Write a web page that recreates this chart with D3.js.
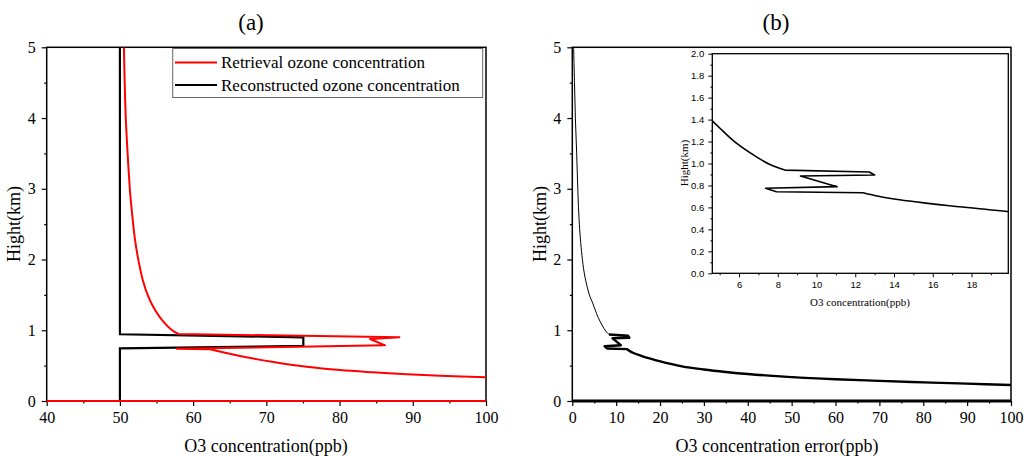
<!DOCTYPE html>
<html><head><meta charset="utf-8">
<script src="https://cdn.jsdelivr.net/npm/d3@7"></script>
<style>body{margin:0;background:#fff}svg{display:block}</style>
</head><body>
<script>
// ---- data ----
const retrievalHeight = [5.0, 4.5, 4.0, 3.5, 3.0, 2.843, 2.56, 2.28, 2.0, 1.715, 1.475, 1.287, 1.122, 1.004, 0.948, 0.90, 0.877, 0.787, 0.74, 0.731, 0.636, 0.552, 0.485, 0.438, 0.406, 0.378, 0.358, 0.333];
const retrievalValue  = [50.55, 50.65, 50.8, 51.05, 51.35, 51.48, 51.75, 52.06, 52.51, 53.11, 53.88, 54.8, 55.93, 57.08, 57.98, 88.17, 84.17, 86.2, 57.76, 62.3, 66.4, 70.96, 75.5, 80.07, 84.6, 89.2, 93.7, 100.5];
const retrievalCorners = [14, 19];   // linear zig-zag between these indices
const groundHeight = [0, 0];
const groundValueA = [40, 100];
const groundValueB = [0, 100];
const reconHeight = [5, 0.943, 0.90, 0.778, 0.745, 0];
const reconValue  = [50, 50, 75.05, 75.05, 50, 50];
const errHeight = [5, 4.5, 4, 3.5, 3, 2.5, 2, 1.75, 1.5, 1.387, 1.29, 1.18, 1.06, 0.99, 0.94, 0.922, 0.895, 0.886, 0.789, 0.774, 0.743, 0.734, 0.702, 0.675, 0.651, 0.628, 0.609, 0.592, 0.563, 0.49, 0.445, 0.41, 0.381, 0.338, 0.308, 0.285, 0.264, 0.245, 0.226];
const errValue  = [0.3, 0.5, 0.7, 1.0, 1.25, 1.6, 2.3, 2.9, 3.9, 4.63, 5.2, 5.9, 6.9, 7.6, 8.37, 12.72, 13.0, 9.17, 11.06, 7.37, 7.93, 12.4, 13.2, 14.1, 15.1, 16.2, 17.2, 18.2, 19.85, 25, 30, 35, 40, 50, 60, 70, 80, 90, 100];
const errCorners = [14, 21];
const xTicksA = [40, 50, 60, 70, 80, 90, 100];
const xTicksB = [0, 10, 20, 30, 40, 50, 60, 70, 80, 90, 100];
const yTicksMain = [0, 1, 2, 3, 4, 5];
const xTicksInset = [6, 8, 10, 12, 14, 16, 18];
const yTicksInset = [0, 0.2, 0.4, 0.6, 0.8, 1.0, 1.2, 1.4, 1.6, 1.8, 2.0];
const legendLabels = ["Retrieval ozone concentration", "Reconstructed ozone concentration"];
const legendColors = ["#ff0000", "#000000"];

const W = 1029, H = 457;
const serif = "'Liberation Serif','Times New Roman',serif";
const sans = "'Liberation Sans',Arial,sans-serif";
const svg = d3.select("body").append("svg").attr("width", W).attr("height", H);
const zip = (xs, ys) => xs.map((x, i) => [x, ys[i]]);

function panel(o) {
  const x = d3.scaleLinear().domain(o.xd).range([o.l, o.r]);
  const y = d3.scaleLinear().domain(o.yd).range([o.b, o.t]);
  const g = svg.append("g");
  const id = "clip" + o.name;
  svg.append("clipPath").attr("id", id).append("rect")
    .attr("x", o.l).attr("y", o.t).attr("width", o.r - o.l).attr("height", o.b - o.t);
  if (o.bg) g.append("rect").attr("x", o.l).attr("y", o.t).attr("width", o.r - o.l).attr("height", o.b - o.t).attr("fill", "#fff");
  const xa = d3.axisBottom(x).tickValues(o.xt).tickSize(o.tl).tickPadding(o.tp).tickFormat(o.xf || d3.format("d"));
  const xm = d3.axisBottom(x).tickValues(o.xm).tickSize(o.tl / 2).tickFormat("");
  const ya = d3.axisLeft(y).tickValues(o.yt).tickSize(o.tl).tickPadding(o.tp).tickFormat(o.yf || d3.format("d"));
  const ym = d3.axisLeft(y).tickValues(o.ym).tickSize(o.tl / 2).tickFormat("");
  [[xa, "x"], [xm, "x"], [ya, "y"], [ym, "y"]].forEach(([ax, k]) => {
    const a = g.append("g").attr("transform", k === "x" ? `translate(0,${o.b})` : `translate(${o.l},0)`).call(ax);
    a.select(".domain").remove();
    a.selectAll(".tick line").attr("stroke", "#000").attr("stroke-width", o.tw);
    a.selectAll("text").attr("font-family", o.tf).attr("font-size", o.fs).attr("fill", "#000");
  });
  g.append("rect").attr("x", o.l).attr("y", o.t).attr("width", o.r - o.l).attr("height", o.b - o.t)
    .attr("fill", "none").attr("stroke", "#000").attr("stroke-width", o.fw);
  const plot = g.append("g").attr("clip-path", `url(#${id})`);
  const line = d3.line().x(d => x(d[0])).y(d => y(d[1]));
  const smooth = d3.line().x(d => x(d[0])).y(d => y(d[1])).curve(d3.curveCatmullRom.alpha(0.5));
  // path made of smooth / linear pieces split at corner indices (first piece smooth)
  const seg = (pts, corners) => {
    const cuts = [0, ...corners, pts.length - 1];
    let d = "";
    for (let i = 0; i < cuts.length - 1; i++) {
      const piece = pts.slice(cuts[i], cuts[i + 1] + 1);
      const s = (i % 2 === 0 ? smooth : line)(piece);
      d += i === 0 ? s : s.replace(/^M/, "L");
    }
    return d;
  };
  return { x, y, g, plot, line, seg };
}

// ---- Panel (a) ----
const pa = panel({ name: "a", xd: [40, 100], yd: [0, 5], l: 46.7, r: 486, t: 47.3, b: 401,
  xt: xTicksA, xm: d3.range(45, 100, 10), yt: yTicksMain, ym: d3.range(0.5, 5, 1),
  tl: 5, tp: 6, tw: 1.2, fw: 1.5, tf: serif, fs: 16 });
pa.plot.append("path").datum(zip(reconValue, reconHeight)).attr("d", pa.line)
  .attr("fill", "none").attr("stroke", "#000").attr("stroke-width", 2.2);
pa.plot.append("path").attr("d", pa.seg(zip(retrievalValue, retrievalHeight), retrievalCorners))
  .attr("fill", "none").attr("stroke", "#ff0000").attr("stroke-width", 2).attr("stroke-linejoin", "round");
svg.append("path").datum(zip(groundValueA, groundHeight)).attr("d", pa.line)
  .attr("fill", "none").attr("stroke", "#ff0000").attr("stroke-width", 2.2);

// legend
const lg = svg.append("g");
lg.append("rect").attr("x", 172.7).attr("y", 48.5).attr("width", 310).attr("height", 49)
  .attr("fill", "#fff").attr("stroke", "#666").attr("stroke-width", 1);
legendLabels.forEach((t, i) => {
  const yy = 62.5 + i * 22.5;
  lg.append("line").attr("x1", 175).attr("x2", 217).attr("y1", yy).attr("y2", yy)
    .attr("stroke", legendColors[i]).attr("stroke-width", 2.2);
  lg.append("text").attr("x", 221).attr("y", yy).attr("dy", "0.35em").text(t)
    .attr("font-family", serif).attr("font-size", 17);
});

svg.append("text").attr("x", 251).attr("y", 30).attr("text-anchor", "middle").text("(a)")
  .attr("font-family", serif).attr("font-size", 23);
svg.append("text").attr("x", 266).attr("y", 452).attr("text-anchor", "middle").text("O3 concentration(ppb)")
  .attr("font-family", serif).attr("font-size", 18);
svg.append("text").attr("transform", "translate(20,224) rotate(-90)").attr("text-anchor", "middle").text("Hight(km)")
  .attr("font-family", serif).attr("font-size", 18);

// ---- Panel (b) ----
const pb = panel({ name: "b", xd: [0, 100], yd: [0, 5], l: 572.3, r: 1011, t: 47.3, b: 401,
  xt: xTicksB, xm: d3.range(5, 100, 10), yt: yTicksMain, ym: d3.range(0.5, 5, 1),
  tl: 5, tp: 6, tw: 1.2, fw: 1.5, tf: serif, fs: 16 });
const errPts = zip(errValue, errHeight);
pb.plot.append("path").attr("d", pb.seg(errPts, errCorners))
  .attr("fill", "none").attr("stroke", "#000").attr("stroke-width", 1);
// lower (dense) part drawn heavier, starting at the first corner
const c0 = errCorners[0];
pb.plot.append("path").attr("d", pb.line(errPts.slice(c0, errCorners[1] + 1)) + pb.seg(errPts.slice(errCorners[1]), []).replace(/^M/, "L"))
  .attr("fill", "none").attr("stroke", "#000").attr("stroke-width", 2.4).attr("stroke-linejoin", "round");
svg.append("path").datum(zip(groundValueB, groundHeight)).attr("d", pb.line)
  .attr("fill", "none").attr("stroke", "#000").attr("stroke-width", 3);

svg.append("text").attr("x", 776).attr("y", 30).attr("text-anchor", "middle").text("(b)")
  .attr("font-family", serif).attr("font-size", 23);
svg.append("text").attr("x", 777).attr("y", 452).attr("text-anchor", "middle").text("O3 concentration error(ppb)")
  .attr("font-family", serif).attr("font-size", 18);
svg.append("text").attr("transform", "translate(546,224) rotate(-90)").attr("text-anchor", "middle").text("Hight(km)")
  .attr("font-family", serif).attr("font-size", 18);

// ---- Inset ----
const pi = panel({ name: "i", xd: [4.62, 19.9], yd: [0, 2], l: 712.3, r: 1008.3, t: 53.7, b: 273.3, bg: true,
  xt: xTicksInset, xm: d3.range(5, 20, 1).filter(v => v % 2 === 1), yt: yTicksInset, ym: d3.range(0.1, 2, 0.2),
  tl: 4, tp: 4, tw: 1, fw: 1.3, tf: sans, fs: 9.5, yf: d3.format(".1f") });
pi.plot.append("path").attr("d", pi.seg(errPts, errCorners))
  .attr("fill", "none").attr("stroke", "#000").attr("stroke-width", 1.6).attr("stroke-linejoin", "round");
svg.append("text").attr("x", 860).attr("y", 306).attr("text-anchor", "middle").text("O3 concentration(ppb)")
  .attr("font-family", serif).attr("font-size", 11);
svg.append("text").attr("transform", "translate(688,163) rotate(-90)").attr("text-anchor", "middle").text("Hight(km)")
  .attr("font-family", serif).attr("font-size", 11);
</script>
</body></html>
